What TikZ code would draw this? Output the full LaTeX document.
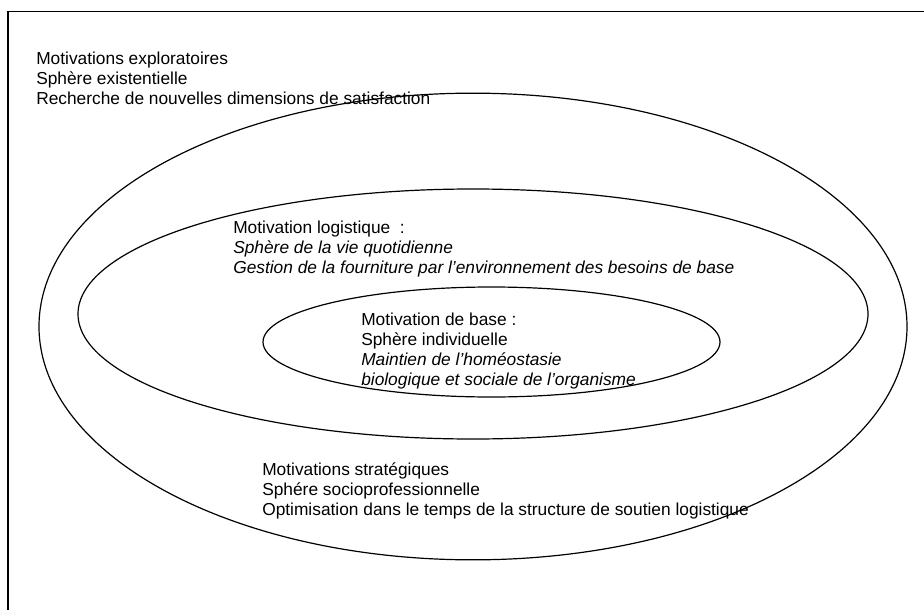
\documentclass[tikz,border=0pt]{standalone}
\usepackage{fontspec}
\setmainfont{Liberation Sans}
\usetikzlibrary{shapes.geometric}

\begin{document}
\begin{tikzpicture}[
  x=0.75pt, y=-0.75pt,
  font=\fontsize{13}{15}\selectfont,
  txt/.style={anchor=north west, align=left, inner sep=0pt},
  ring/.style={draw, ellipse, line width=0.9pt, inner sep=0pt}
]
  % Page area and frame
  \clip (0,0) rectangle (924,610);
  \draw[line width=0.9pt] (8,11.5) rectangle (940,630);

  % Nested spheres
  \node[ring, minimum width=651pt, minimum height=350pt] (outer) at (473,326.5) {};
  \node[ring, minimum width=592.5pt, minimum height=187.5pt] (middle) at (473,314) {};
  \node[ring, minimum width=342.75pt, minimum height=82.5pt] (inner) at (491.5,342) {};

  % Labels of each sphere
  \node[txt] (explor) at (36,51.5) {Motivations exploratoires\\
    Sphère existentielle\\
    Recherche de nouvelles dimensions de satisfaction};
  \node[txt] (logist) at (233,220.5) {Motivation logistique \ :\\
    \textit{Sphère de la vie quotidienne}\\
    \textit{Gestion de la fourniture par l’environnement des besoins de base}};
  \node[txt] (basic) at (361,312.5) {Motivation de base :\\
    Sphère individuelle\\
    \textit{Maintien de l’homéostasie}\\
    \textit{biologique et sociale de l’organisme}};
  \node[txt] (strat) at (262,462.5) {Motivations stratégiques\\
    Sphére socioprofessionnelle\\
    Optimisation dans le temps de la structure de soutien logistique};
\end{tikzpicture}
\end{document}
